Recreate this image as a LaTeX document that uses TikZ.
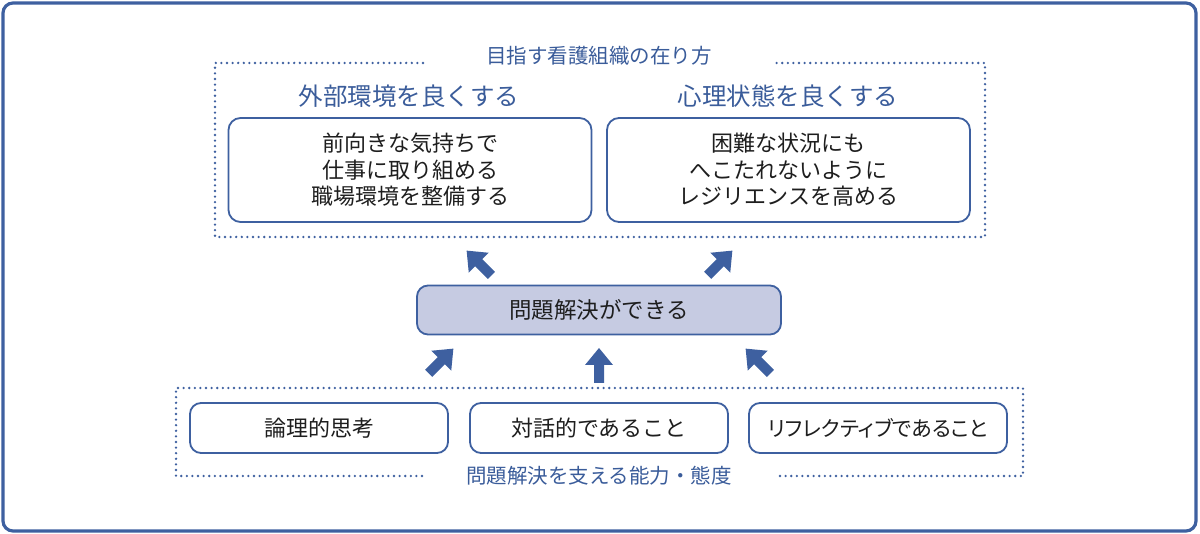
\documentclass[tikz,border=0pt]{standalone}
\usepackage{fontspec}
\setmainfont{Noto Sans CJK JP}
\newfontfamily\jpprop{Noto Sans CJK JP}[RawFeature=+palt]
\definecolor{frameblue}{HTML}{3E60A0}
\definecolor{headblue}{HTML}{3A5C9A}
\definecolor{midfill}{HTML}{C6CBE2}
\definecolor{txt}{HTML}{1E1E1E}
\tikzset{
  outerframe/.style={draw=frameblue, line width=3.2pt, rounded corners=10pt},
  dotline/.style={draw=frameblue, line width=2.6pt, line cap=round, dash pattern=on 0pt off 5.6pt},
  goalbox/.style={draw=frameblue, line width=1.8pt, rounded corners=12pt, fill=white,
    minimum width=363pt, minimum height=104pt, align=center, text=txt,
    font=\fontsize{22}{26.5}\selectfont},
  midbox/.style={draw=frameblue, line width=1.8pt, rounded corners=11pt, fill=midfill,
    minimum width=364pt, minimum height=49pt, text=txt, font=\fontsize{22.5}{26}\selectfont},
  abilbox/.style={draw=frameblue, line width=1.8pt, rounded corners=11pt, fill=white,
    minimum width=258pt, minimum height=50pt, text=txt, font=\fontsize{22}{26}\selectfont},
  headtxt/.style={text=headblue, font=\fontsize{24.5}{29}\selectfont},
  labeltxt/.style={text=headblue, font=\fontsize{20.5}{24}\selectfont},
  pics/blockarrow/.style={code={
    \fill[frameblue] (-17.5,-5) -- (0.5,-5) -- (0.5,-14) -- (17.5,0) -- (0.5,14) -- (0.5,5) -- (-17.5,5) -- cycle;
  }}
}
\begin{document}
\begin{tikzpicture}[x=1pt,y=-1pt]
\useasboundingbox (0,0) rectangle (1200,534);
\draw[outerframe] (3,3) rectangle (1196,531);

% top dotted frame
\coordinate (tl) at (215,63);
\coordinate (tr) at (985,63);
\coordinate (bl) at (215,237);
\coordinate (br) at (985,237);
\draw[dotline] (423,63) -- (tl) -- (bl) -- (br) -- (tr) -- (776,63);
\node[labeltxt] (goal) at (599,56) {目指す看護組織の在り方};

\node[headtxt] (h1) at (409,96) {外部環境を良くする};
\node[headtxt] (h2) at (788,96) {心理状態を良くする};

\node[goalbox] (g1) at (410,170) {前向きな気持ちで\\仕事に取り組める\\職場環境を整備する};
\node[goalbox] (g2) at (788.5,170) {困難な状況にも\\へこたれないように\\レジリエンスを高める};

% middle
\node[midbox] (mid) at (599,310) {問題解決ができる};

\pic[rotate=135] (a1) at (479,263) {blockarrow};
\pic[rotate=45] (a2) at (720,263) {blockarrow};
\pic[rotate=45] (a3) at (441,361) {blockarrow};
\pic[rotate=90] (a4) at (599,365.5) {blockarrow};
\pic[rotate=135] (a5) at (758,361) {blockarrow};

% bottom dotted frame
\coordinate (btl) at (176,388);
\coordinate (btr) at (1023,388);
\coordinate (bbl) at (176,476);
\coordinate (bbr) at (1023,476);
\draw[dotline] (422,476) -- (bbl) -- (btl) -- (btr) -- (bbr) -- (777,476);
\node[labeltxt] (abil) at (599,476) {問題解決を支える能力・態度};

\node[abilbox] (b1) at (319,428) {論理的思考};
\node[abilbox] (b2) at (599,428) {対話的であること};
\node[abilbox] (b3) at (878,428) {\fontsize{21}{26}\selectfont\jpprop リフレクティブであること};
\end{tikzpicture}
\end{document}
